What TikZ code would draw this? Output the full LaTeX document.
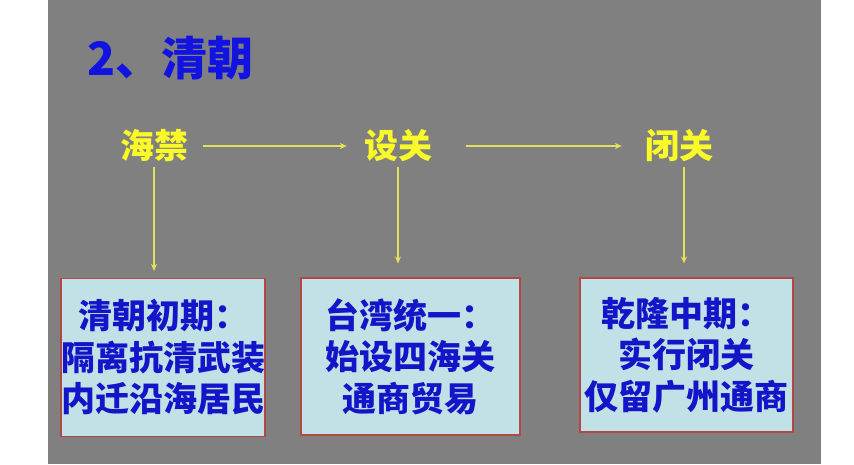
\documentclass[tikz,border=0pt]{standalone}
\usepackage{fontspec}
\newfontfamily\cjk{Noto Sans CJK SC}
\usetikzlibrary{arrows.meta}
\definecolor{bggray}{RGB}{128,128,128}
\definecolor{titleblue}{RGB}{18,18,225}
\definecolor{boxblue}{RGB}{20,20,200}
\definecolor{lbl}{RGB}{250,250,40}
\definecolor{arrowc}{RGB}{225,225,90}
\definecolor{boxfill}{RGB}{192,226,230}
\definecolor{boxline}{RGB}{180,70,70}
\tikzset{
  lab/.style={inner sep=0pt, text=lbl, font=\cjk\bfseries\fontsize{34}{38}\selectfont},
  infobox/.style={draw=boxline, line width=1.1pt, fill=boxfill, inner sep=0pt,
    text=boxblue, align=center, font=\cjk\bfseries\fontsize{34}{41.5}\selectfont},
  arr/.style={draw=arrowc, line width=1.1pt, -{Stealth[length=7pt,width=6pt]}}
}
\begin{document}
\begin{tikzpicture}[x=1pt,y=1pt]
\useasboundingbox (0,0) rectangle (854,464);
\fill[white] (0,0) rectangle (854,464);
\fill[bggray] (48,0) rectangle (821,464);
\node[anchor=west, inner sep=0pt, text=titleblue, font=\cjk\bfseries\fontsize{46}{50}\selectfont] (title) at (87,406) {2、清朝};
\node[lab] (haijin) at (154,318) {海禁};
\node[lab] (sheguan) at (398,318) {设关};
\node[lab] (biguan) at (679,318) {闭关};
\node[infobox, minimum width=202pt, minimum height=158pt] (box1) at (163,106.5) {清朝初期：\\隔离抗清武装\\内迁沿海居民};
\node[infobox, minimum width=219pt, minimum height=157pt] (box2) at (410.5,107.5) {台湾统一：\\始设四海关\\通商贸易};
\node[infobox, minimum width=213pt, minimum height=154pt] (box3) at (686.5,109) {乾隆中期：\\实行闭关\\仅留广州通商};
\draw[arr, shorten <=15pt, shorten >=17pt] (haijin.east) -- (sheguan.west);
\draw[arr, shorten <=34pt, shorten >=23pt] (sheguan.east) -- (biguan.west);
\draw[arr, shorten <=5pt, shorten >=7pt] (haijin.south) -- (haijin.south |- box1.north);
\draw[arr, shorten <=5pt, shorten >=14pt] (sheguan.south) -- (sheguan.south |- box2.north);
\draw[arr, shorten <=5pt, shorten >=14pt] ([xshift=5pt]biguan.south) -- ([xshift=5pt]biguan.south |- box3.north);
\end{tikzpicture}
\end{document}
